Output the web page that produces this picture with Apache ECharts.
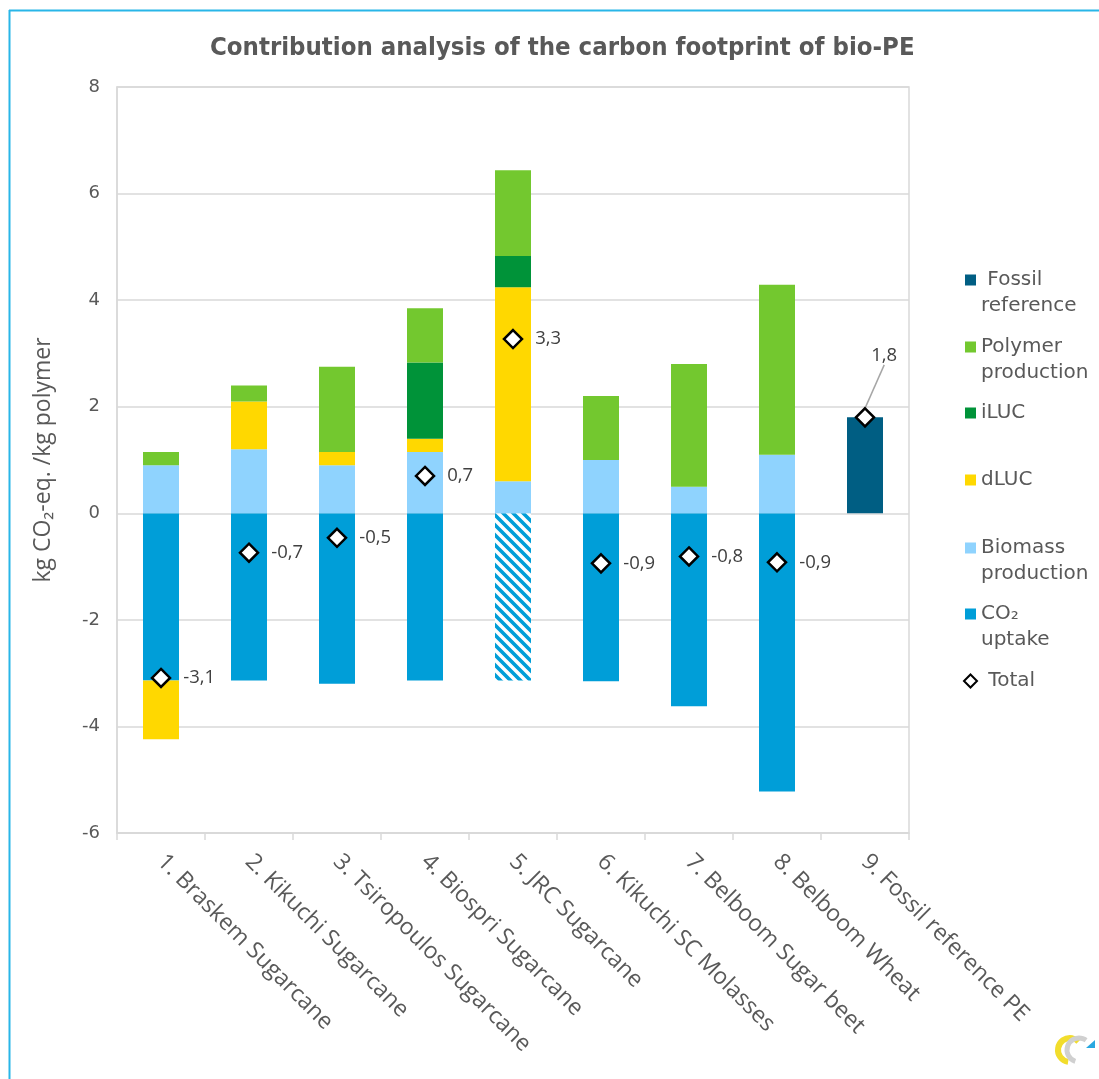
<!DOCTYPE html>
<html>
<head>
<meta charset="utf-8">
<script src="https://cdn.jsdelivr.net/npm/echarts@6/dist/echarts.min.js"></script>
<style>
html,body{margin:0;padding:0;background:#fff;}
#chart{width:1099px;height:1079px;}
</style>
</head>
<body>
<div id="chart"></div>
<script>
const categories = ['1. Braskem Sugarcane','2. Kikuchi Sugarcane','3. Tsiropoulos Sugarcane','4. Biospri Sugarcane','5. JRC Sugarcane','6. Kikuchi SC Molasses','7. Belboom Sugar beet','8. Belboom Wheat','9. Fossil reference PE'];
const co2Uptake = [-3.14, -3.14, -3.2, -3.14, -3.14, -3.15, -3.62, -5.22, null];
const biomassProduction = [0.9, 1.2, 0.9, 1.15, 0.6, 1.0, 0.5, 1.1, null];
const dLUC = [-1.1, 0.9, 0.25, 0.25, 3.64, null, null, null, null];
const iLUC = [null, null, null, 1.43, 0.59, null, null, null, null];
const polymerProduction = [0.25, 0.3, 1.6, 1.02, 1.61, 1.2, 2.3, 3.19, null];
const fossilReference = [null, null, null, null, null, null, null, null, 1.8];
const total = [-3.09, -0.74, -0.46, 0.7, 3.27, -0.94, -0.81, -0.92, 1.8];
const hatchedIndex = 4;
const yTicks = {min: -6, max: 8, interval: 2};

const colors = {
  co2: '#009ed8', biomass: '#8fd3fe', dluc: '#ffd800', iluc: '#009339',
  polymer: '#73c82f', fossil: '#005e83'
};

// hatched pattern for the JRC CO2 uptake bar
const pc = document.createElement('canvas');
pc.width = 10; pc.height = 10;
const pctx = pc.getContext('2d');
pctx.fillStyle = '#ffffff';
pctx.fillRect(0, 0, 10, 10);
pctx.strokeStyle = colors.co2;
pctx.lineWidth = 3.6;
pctx.beginPath();
pctx.moveTo(-3, -3); pctx.lineTo(13, 13);
pctx.moveTo(-3, 7); pctx.lineTo(3, 13);
pctx.moveTo(7, -3); pctx.lineTo(13, 3);
pctx.stroke();

const fmt = v => (Math.round(v * 10) / 10).toFixed(1).replace('.', ',');
const toData = arr => arr.map(v => v === null ? '-' : v);

const chart = echarts.init(document.getElementById('chart'));
const twoLineIcon = 'path://M0,0L11,0L11,11L0,11Z M0,37L11,37';
const legendText = {
  'Fossil reference': ' Fossil\nreference',
  'Polymer production': 'Polymer\nproduction',
  'iLUC': 'iLUC',
  'dLUC': 'dLUC',
  'Biomass production': 'Biomass\nproduction',
  'CO₂ uptake': 'CO₂\nuptake',
  'Total': ' Total'
};
const legendTextStyle = {fontFamily: 'DejaVu Sans', fontSize: 20, color: '#595959', lineHeight: 26};
function mkLegend(name, top, twoLine, extra) {
  return Object.assign({
    data: [name], left: 965, top: top, padding: 0, orient: 'vertical',
    itemWidth: 11, itemHeight: twoLine ? 37 : 11,
    icon: twoLine ? twoLineIcon : 'rect',
    selectedMode: false,
    formatter: n => legendText[n],
    textStyle: legendTextStyle
  }, extra || {});
}

const barBase = {type: 'bar', stack: 'total', barWidth: 36};

const totalData = total.map((v, i) => i === total.length - 1
  ? {value: v, labelLine: {show: true, lineStyle: {color: '#a6a6a6', width: 1.5}}}
  : v);

const option = {
  animation: false,
  backgroundColor: '#ffffff',
  title: {
    text: 'Contribution analysis of the carbon footprint of bio-PE',
    left: 205, top: 30,
    textStyle: {fontFamily: 'DejaVu Sans Condensed', fontWeight: 'bold', fontSize: 25.5, color: '#595959'}
  },
  grid: {left: 117, right: 190, top: 87, bottom: 246, show: true, borderColor: '#d9d9d9', borderWidth: 1.5, backgroundColor: 'transparent'},
  legend: [
    mkLegend('Fossil reference', 267, true),
    mkLegend('Polymer production', 334, true),
    mkLegend('iLUC', 400, false),
    mkLegend('dLUC', 467, false),
    mkLegend('Biomass production', 535, true),
    mkLegend('CO₂ uptake', 601, true),
    mkLegend('Total', 668, false, {icon: 'diamond', itemWidth: 13, itemHeight: 13, left: 963})
  ],
  xAxis: {
    type: 'category', data: categories,
    axisLine: {onZero: false, lineStyle: {color: '#d9d9d9', width: 1.5}},
    axisTick: {show: true, length: 7, lineStyle: {color: '#d9d9d9', width: 1.5}},
    axisLabel: {rotate: -45, margin: 25, fontFamily: 'Open Sans', fontSize: 23, color: '#595959', interval: 0}
  },
  yAxis: {
    type: 'value', min: yTicks.min, max: yTicks.max, interval: yTicks.interval,
    name: 'kg CO₂-eq. /kg polymer', nameLocation: 'middle', nameGap: 62,
    nameTextStyle: {fontFamily: 'Open Sans', fontSize: 23, color: '#595959'},
    axisLine: {show: true, lineStyle: {color: '#d9d9d9', width: 1.5}},
    axisTick: {show: false},
    splitLine: {lineStyle: {color: '#d9d9d9', width: 1.5}},
    axisLabel: {fontFamily: 'DejaVu Sans', fontSize: 18, color: '#595959', margin: 17}
  },
  series: [
    Object.assign({}, barBase, {
      name: 'CO₂ uptake', itemStyle: {color: colors.co2},
      data: co2Uptake.map((v, i) => i === hatchedIndex ? {value: v, itemStyle: {color: {image: pc, repeat: 'repeat'}}} : (v === null ? '-' : v))
    }),
    Object.assign({}, barBase, {name: 'Biomass production', itemStyle: {color: colors.biomass}, data: toData(biomassProduction)}),
    Object.assign({}, barBase, {name: 'dLUC', itemStyle: {color: colors.dluc}, data: toData(dLUC)}),
    Object.assign({}, barBase, {name: 'iLUC', itemStyle: {color: colors.iluc}, data: toData(iLUC)}),
    Object.assign({}, barBase, {name: 'Polymer production', itemStyle: {color: colors.polymer}, data: toData(polymerProduction)}),
    Object.assign({}, barBase, {name: 'Fossil reference', itemStyle: {color: colors.fossil}, data: toData(fossilReference)}),
    {
      type: 'scatter', name: 'Total', symbol: 'diamond', symbolSize: 18, z: 5,
      itemStyle: {color: '#ffffff', borderColor: '#000000', borderWidth: 2.5, opacity: 1},
      label: {show: true, position: 'right', distance: 12, fontFamily: 'Open Sans', fontSize: 18.5, color: '#404040', formatter: p => fmt(p.value)},
      labelLine: {show: false},
      labelLayout: p => p.dataIndex === total.length - 1 ? {dx: -16, dy: -62} : {},
      data: totalData
    }
  ],
  graphic: [
    {type: 'line', shape: {x1: 9, y1: 10.5, x2: 1099, y2: 10.5}, style: {stroke: '#29b6e8', lineWidth: 2}, silent: true},
    {type: 'line', shape: {x1: 9.5, y1: 10, x2: 9.5, y2: 1079}, style: {stroke: '#29b6e8', lineWidth: 2}, silent: true},
    {type: 'arc', shape: {cx: 1070, cy: 1050, r: 12, startAngle: Math.PI * 0.55, endAngle: Math.PI * 1.75}, style: {stroke: '#f2dd2c', lineWidth: 6, fill: null}, silent: true},
    {type: 'arc', shape: {cx: 1079, cy: 1050, r: 12, startAngle: Math.PI * 0.6, endAngle: Math.PI * 1.7}, style: {stroke: '#d0d0d0', lineWidth: 5, fill: null}, silent: true},
    {type: 'polygon', shape: {points: [[1086, 1048], [1095, 1040], [1095, 1048]]}, style: {fill: '#29a8e0'}, silent: true}
  ]
};
chart.setOption(option);
</script>
</body>
</html>
